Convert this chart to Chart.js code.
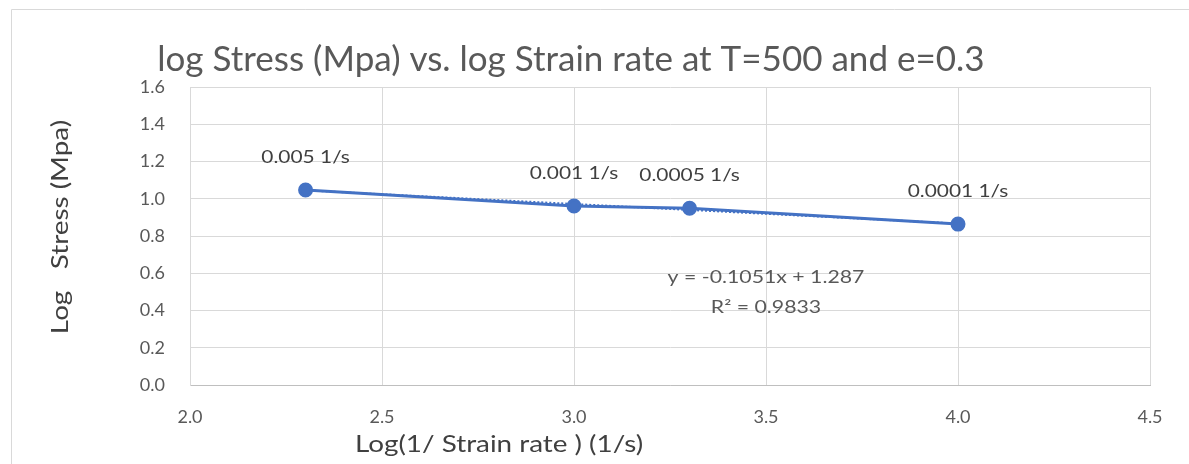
<!DOCTYPE html>
<html>
<head>
<meta charset="utf-8">
<script src="https://cdn.jsdelivr.net/npm/chart.js@4/dist/chart.umd.min.js"></script>
<style>
  html, body { margin: 0; padding: 0; background: #fff; }
  #wrap { position: relative; width: 1189px; height: 464px; }
</style>
</head>
<body>
<div id="wrap"><canvas id="myChart" width="1189" height="464"></canvas></div>
<script>
// data
var logRate = [2.301, 3.0, 3.301, 4.0];
var logStress = [1.047, 0.961, 0.949, 0.864];
var rateLabels = ['0.005 1/s', '0.001 1/s', '0.0005 1/s', '0.0001 1/s'];
var trendSlope = -0.1051, trendIntercept = 1.287;
var trendText = ['y = -0.1051x + 1.287', 'R\u00b2 = 0.9833'];
var xTicks = [2.0, 2.5, 3.0, 3.5, 4.0, 4.5];
var yTicks = [0, 0.2, 0.4, 0.6, 0.8, 1.0, 1.2, 1.4, 1.6];

var titleText = 'log Stress (Mpa) vs. log Strain rate at T=500 and e=0.3';
var xTitle = 'Log(1/ Strain rate ) (1/s)';
var yTitle = 'Log   Stress (Mpa)';

var blue = '#4472C4';
var grey = '#595959';
var FONT = 'Lato, "Open Sans", sans-serif';

var points = logRate.map(function(x, i){ return {x: x, y: logStress[i]}; });
var trendEnds = [logRate[0], logRate[logRate.length - 1]];
var trend = trendEnds.map(function(x){ return {x: x, y: trendSlope * x + trendIntercept}; });

// text drawn a little wider, the original font is stretched sideways
function wideText(ctx, txt, x, y, font, sx, rot){
  ctx.save();
  ctx.translate(x, y);
  if (rot) ctx.rotate(rot);
  ctx.scale(sx, 1);
  ctx.font = font;
  ctx.fillText(txt, 0, 0);
  ctx.restore();
}

var extras = {
  id: 'extras',
  afterDraw: function(c){
    var ctx = c.ctx;
    ctx.save();
    // outer chart frame
    ctx.strokeStyle = '#d9d9d9';
    ctx.lineWidth = 1;
    ctx.beginPath();
    ctx.moveTo(11.5, 464); ctx.lineTo(11.5, 9.5); ctx.lineTo(1189, 9.5);
    ctx.stroke();

    ctx.textAlign = 'center';

    // title
    ctx.fillStyle = grey;
    ctx.textBaseline = 'alphabetic';
    wideText(ctx, titleText, 571, 71, '34px ' + FONT, 1.03);

    // axis titles
    ctx.fillStyle = '#404040';
    ctx.textBaseline = 'middle';
    wideText(ctx, xTitle, 499, 444, '24px ' + FONT, 1.16);
    wideText(ctx, yTitle, 60, 227, '24px ' + FONT, 1.16, -Math.PI / 2);

    // point labels
    var meta = c.getDatasetMeta(0);
    meta.data.forEach(function(p, i){
      wideText(ctx, rateLabels[i], p.x, p.y - 33, '18px ' + FONT, 1.16);
    });

    // trendline equation
    ctx.fillStyle = grey;
    var xs = c.scales.x, ys = c.scales.y;
    wideText(ctx, trendText[0], xs.getPixelForValue(3.5), ys.getPixelForValue(0.575), '17px ' + FONT, 1.25);
    wideText(ctx, trendText[1], xs.getPixelForValue(3.5), ys.getPixelForValue(0.415), '17px ' + FONT, 1.25);
    ctx.restore();
  }
};

var chart = new Chart(document.getElementById('myChart').getContext('2d'), {
  type: 'scatter',
  data: {
    datasets: [{
      data: points,
      showLine: true,
      borderColor: blue,
      backgroundColor: blue,
      borderWidth: 3,
      pointRadius: 6,
      pointHoverRadius: 6
    }, {
      data: trend,
      showLine: true,
      borderColor: blue,
      borderWidth: 2,
      borderDash: [2, 2],
      pointRadius: 0
    }]
  },
  options: {
    responsive: false,
    animation: false,
    layout: { padding: { left: 0, top: 87, right: 39, bottom: 0 } },
    plugins: { legend: { display: false }, tooltip: { enabled: false } },
    scales: {
      x: {
        type: 'linear', min: 2.0, max: 4.5,
        afterBuildTicks: function(s){ s.ticks = xTicks.map(function(v){ return {value: v}; }); },
        afterFit: function(s){ s.height = 79; },
        grid: { color: '#d9d9d9', drawTicks: false },
        border: { color: '#bfbfbf' },
        ticks: { color: grey, font: { family: FONT, size: 18 }, padding: 21,
                 callback: function(v){ return v.toFixed(1); } }
      },
      y: {
        type: 'linear', min: 0, max: 1.6,
        afterBuildTicks: function(s){ s.ticks = yTicks.map(function(v){ return {value: v}; }); },
        afterFit: function(s){ s.width = 190; },
        grid: { color: '#d9d9d9', drawTicks: false },
        border: { color: '#d9d9d9' },
        ticks: { color: grey, font: { family: FONT, size: 18 }, padding: 25,
                 callback: function(v){ return v.toFixed(1); } }
      }
    }
  },
  plugins: [extras]
});
</script>
</body>
</html>
